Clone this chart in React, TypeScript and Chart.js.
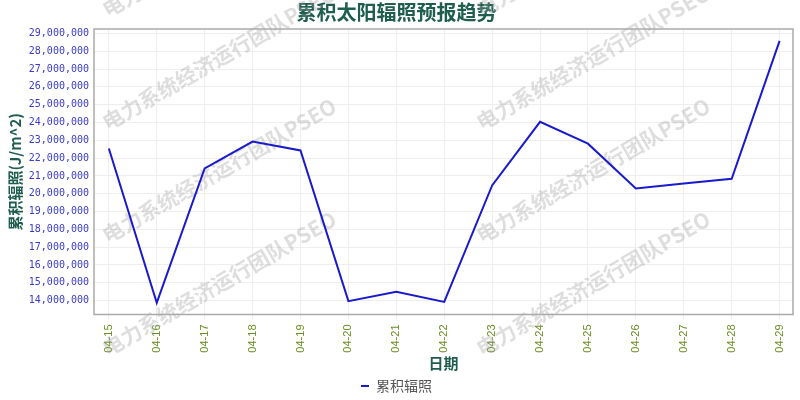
import React, { useEffect, useRef } from "react";
import { Chart, registerables } from "chart.js";

Chart.register(...registerables);

const dates = ["04-15", "04-16", "04-17", "04-18", "04-19", "04-20", "04-21", "04-22", "04-23", "04-24", "04-25", "04-26", "04-27", "04-28", "04-29"];
const radiation = [22540000, 13880000, 21420000, 22930000, 22430000, 13970000, 14500000, 13930000, 20470000, 24040000, 22810000, 20300000, 20570000, 20840000, 28580000];
const yTicks = [14000000, 15000000, 16000000, 17000000, 18000000, 19000000, 20000000, 21000000, 22000000, 23000000, 24000000, 25000000, 26000000, 27000000, 28000000, 29000000];

const titleText = "累积太阳辐照预报趋势";
const yTitle = "累积辐照(J/m^2)";
const xTitle = "日期";
const seriesName = "累积辐照";
const watermark = "电力系统经济运行团队PSEO";

const CJK = "'Noto Sans CJK SC', 'Noto Sans', sans-serif";
const TEAL = "#1e5e4e";

const watermarkPlugin = {
  id: "watermark",
  beforeDatasetsDraw(chart: any) {
    const ctx = chart.ctx;
    ctx.save();
    ctx.font = `bold 21px ${CJK}`;
    ctx.fillStyle = "rgba(160,160,160,0.35)";
    ctx.textBaseline = "alphabetic";
    const cols = [108, 482];
    const rows = [18, 131, 244, 357];
    for (const cx of cols) {
      for (const cy of rows) {
        ctx.save();
        ctx.translate(cx, cy);
        ctx.rotate(-Math.PI / 6);
        ctx.fillText(watermark, 0, 0);
        ctx.restore();
      }
    }
    ctx.restore();
  },
  afterDraw(chart: any) {
    const { ctx, chartArea } = chart;
    ctx.save();
    ctx.strokeStyle = "#aaaaaa";
    ctx.lineWidth = 1.5;
    ctx.strokeRect(chartArea.left, chartArea.top, chartArea.right - chartArea.left, chartArea.bottom - chartArea.top);
    ctx.restore();
  },
};

export default function App() {
  const ref = useRef<HTMLCanvasElement | null>(null);

  useEffect(() => {
    document.body.style.margin = "0";
    const canvas = ref.current;
    if (!canvas) return;
    const chart = new Chart(canvas, {
      type: "line",
      data: {
        datasets: [
          {
            label: seriesName,
            data: radiation.map((v, i) => ({ x: i, y: v })),
            borderColor: "#1a1acd",
            backgroundColor: "#1a1acd",
            borderWidth: 2,
            pointRadius: 0,
            tension: 0,
            fill: false,
          },
        ],
      },
      options: {
        responsive: false,
        animation: false,
        layout: { padding: { left: 0, right: 7, top: 0, bottom: -3 } },
        plugins: {
          title: {
            display: true,
            text: titleText,
            color: TEAL,
            font: { family: CJK, size: 20, weight: "bold", lineHeight: 1.2 },
            padding: { top: 0, bottom: 5 },
          },
          legend: {
            display: true,
            position: "bottom",
            labels: {
              usePointStyle: true,
              pointStyle: "line",
              pointStyleWidth: 8,
              padding: 4,
              color: "#555555",
              font: { family: CJK, size: 14 },
            },
          },
          tooltip: { enabled: false },
        },
        scales: {
          x: {
            type: "linear",
            min: -0.31,
            max: 14.28,
            afterBuildTicks: (scale: any) => {
              scale.ticks = dates.map((_, i) => ({ value: i }));
            },
            afterFit: (scale: any) => {
              scale.height = 60.5;
            },
            ticks: {
              autoSkip: false,
              minRotation: 90,
              maxRotation: 90,
              padding: 5,
              color: "#6b8e23",
              font: { family: "'Liberation Sans', Arial, sans-serif", size: 11 },
              callback: (v: any) => dates[v] ?? "",
            },
            grid: { color: "#eeeeee", drawTicks: true, tickLength: 5 },
            border: { display: false },
            title: {
              display: true,
              text: xTitle,
              color: TEAL,
              font: { family: CJK, size: 15, weight: "bold", lineHeight: 1.2 },
              padding: { top: 3, bottom: 3 },
            },
          },
          y: {
            type: "linear",
            min: 13220000,
            max: 29250000,
            afterBuildTicks: (scale: any) => {
              scale.ticks = yTicks.map((v) => ({ value: v }));
            },
            afterFit: (scale: any) => {
              scale.width = 94;
            },
            ticks: {
              padding: 5,
              color: "#3a3acf",
              font: { family: "'DejaVu Sans Mono', monospace", size: 10 },
              callback: (v: any) => Number(v).toLocaleString("en-US"),
            },
            grid: { color: "#eeeeee", drawTicks: false },
            border: { display: false },
            title: {
              display: true,
              text: yTitle,
              color: TEAL,
              font: { family: CJK, size: 15, weight: "bold", lineHeight: 1.2 },
              padding: { top: 6, bottom: 0 },
            },
          },
        },
      },
      plugins: [watermarkPlugin],
    });
    return () => chart.destroy();
  }, []);

  return (
    <div style={{ width: 800, height: 400, background: "#ffffff" }}>
      <canvas ref={ref} width={800} height={400} />
    </div>
  );
}
